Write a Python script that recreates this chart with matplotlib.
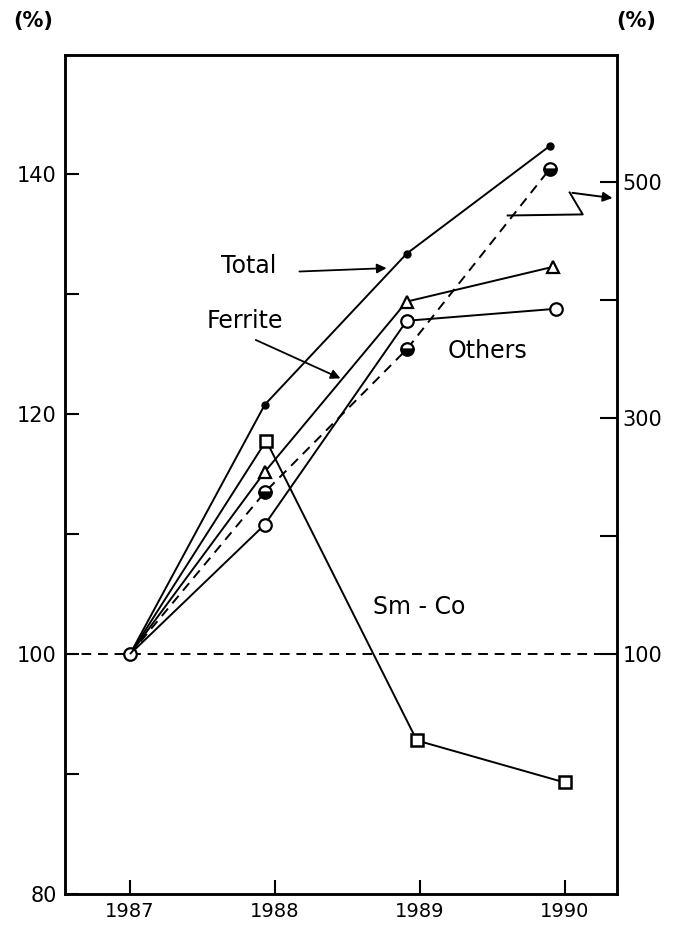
import matplotlib.pyplot as plt

# values
years = [1987, 1988, 1989, 1990]
main_years = [1987, 1987.93, 1988.91, 1989.9]
total = [100, 120.8, 133.4, 142.4]
ferrite = [100, 115.2, 129.4, 132.3]
others = [100, 110.8, 127.8, 128.8]
smco = [100, 117.8, 92.8, 89.3]
dashed_right = [100, 237, 358, 511]   # read on the right-hand scale

left_ticks = [80, 90, 100, 110, 120, 130, 140]
left_labels = ['80', '', '100', '', '120', '', '140']
right_ticks = [100, 200, 300, 400, 500]
right_labels = ['100', '', '300', '', '500']

# right scale: 100 aligned with 100 on the left, ~10.15 right units per left unit
ratio = 10.15
ylo, yhi = 80, 150

fig = plt.figure(figsize=(6.83, 9.41), dpi=100)
ax = fig.add_axes([0.095, 0.050, 0.808, 0.892])
ax2 = ax.twinx()

ax.set_xlim(1986.55, 1990.36)
ax.set_ylim(ylo, yhi)
ax2.set_ylim(100 + (ylo - 100) * ratio, 100 + (yhi - 100) * ratio)

lw = 1.4
dash = (0, (5, 3.5))
ax.axhline(100, color='black', lw=lw, linestyle=dash)

skip_first = [1, 2, 3]
ax.plot(main_years, total, color='black', lw=lw, marker='o', ms=5,
        mfc='black', mec='black', markevery=skip_first)
ax.plot(main_years[:3] + [1989.92], ferrite, color='black', lw=lw, marker='^', ms=9,
        mfc='white', mec='black', mew=1.6, markevery=skip_first)
ax.plot(main_years[:3] + [1989.94], others, color='black', lw=lw, marker='o', ms=9,
        mfc='white', mec='black', mew=1.6, markevery=skip_first)
ax.plot(years[:1] + [1987.94, 1988.98, 1990.0], smco, color='black', lw=lw, marker='s', ms=9,
        mfc='white', mec='black', mew=1.8, markevery=skip_first)
ax2.plot(main_years, dashed_right, color='black', lw=lw, linestyle=dash,
         marker='o', ms=9, fillstyle='bottom', mfc='black', mfcalt='white',
         mec='black', mew=1.6, markevery=skip_first)
# common starting point
ax.plot([1987], [100], marker='o', ms=9, mfc='white', mec='black', mew=1.6, zorder=5)

# axis styling
for a in (ax, ax2):
    for s in a.spines.values():
        s.set_linewidth(1.8)
ax.set_xticks(years)
ax.set_xticklabels([str(y) for y in years], fontsize=14)
ax.set_yticks(left_ticks)
ax.set_yticklabels(left_labels, fontsize=15)
ax2.set_yticks(right_ticks)
ax2.set_yticklabels(right_labels, fontsize=15)
ax.tick_params(axis='both', direction='in', length=10, width=1.5, pad=6)
ax2.tick_params(axis='y', direction='in', length=12, width=1.5, pad=4)

# unit labels
fig.text(0.02, 0.978, '(%)', fontsize=15, fontweight='bold', va='center')
fig.text(0.903, 0.978, '(%)', fontsize=15, fontweight='bold', va='center')

# annotations
ax.text(1987.63, 132.4, 'Total', fontsize=17, va='center')
ax.annotate('', xy=(1988.79, 132.2), xytext=(1988.15, 131.9),
            arrowprops=dict(arrowstyle='-|>', color='black', lw=1.3, mutation_scale=14))
ax.text(1987.53, 127.75, 'Ferrite', fontsize=17, va='center')
ax.annotate('', xy=(1988.47, 122.9), xytext=(1987.85, 126.3),
            arrowprops=dict(arrowstyle='-|>', color='black', lw=1.3, mutation_scale=14))
ax.text(1989.19, 125.25, 'Others', fontsize=17, va='center')
ax.text(1988.68, 103.9, 'Sm - Co', fontsize=17, va='center')

# zigzag arrow from dashed line to the right-hand scale
zx = [1989.607, 1990.125, 1990.035]
zy = [136.58, 136.67, 138.5]
ax.plot(zx, zy, color='black', lw=1.4, clip_on=False)
ax.annotate('', xy=(1990.35, 138.0), xytext=(1990.035, 138.5),
            arrowprops=dict(arrowstyle='-|>', color='black', lw=1.4, mutation_scale=14),
            annotation_clip=False)

fig.savefig('out.png', dpi=100)
